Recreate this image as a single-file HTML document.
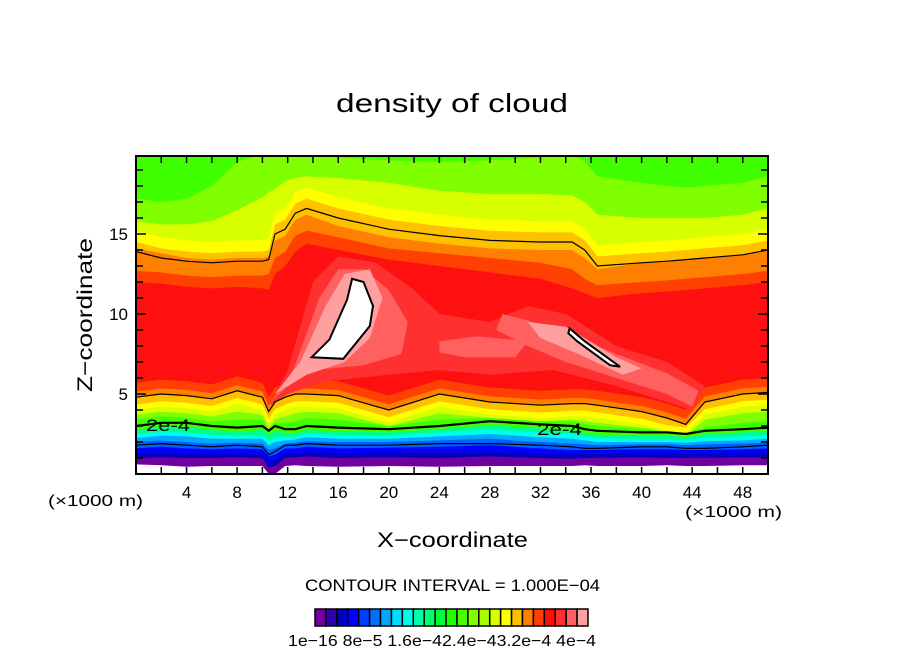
<!DOCTYPE html>
<html><head><meta charset="utf-8">
<style>
html,body{margin:0;padding:0;background:#fff;}
svg text{font-family:"Liberation Sans",sans-serif;fill:#000;}
</style></head>
<body>
<svg id="chart" width="904" height="654" viewBox="0 0 904 654" xmlns="http://www.w3.org/2000/svg">
<rect width="904" height="654" fill="#fff"/>
<text x="336" y="112" font-size="26" textLength="232" lengthAdjust="spacingAndGlyphs">density of cloud</text>
<defs><clipPath id="plotclip"><rect x="136" y="156" width="632" height="318"/></clipPath></defs>
<g id="field" clip-path="url(#plotclip)"></g>
<g id="lines" clip-path="url(#plotclip)"></g>
<rect x="136" y="156" width="632" height="318" fill="none" stroke="#000" stroke-width="2"/>
<g id="ticks"></g>
<text x="146" y="431" font-size="17" textLength="44" lengthAdjust="spacingAndGlyphs">2e-4</text>
<text x="537" y="435" font-size="17" textLength="45" lengthAdjust="spacingAndGlyphs">2e-4</text>
<text x="48" y="506" font-size="16" textLength="95" lengthAdjust="spacingAndGlyphs">(×1000 m)</text>
<text x="685" y="517" font-size="16" textLength="97" lengthAdjust="spacingAndGlyphs">(×1000 m)</text>
<text x="377" y="547" font-size="21" textLength="151" lengthAdjust="spacingAndGlyphs">X−coordinate</text>
<text transform="translate(92,392) rotate(-90)" font-size="21" textLength="154" lengthAdjust="spacingAndGlyphs">Z−coordinate</text>
<text x="305" y="591" font-size="17" textLength="295" lengthAdjust="spacingAndGlyphs">CONTOUR INTERVAL = 1.000E−04</text>
<g id="cbar"></g>
<text x="288" y="646" font-size="16" textLength="308" lengthAdjust="spacingAndGlyphs">1e−16 8e−5 1.6e−42.4e−43.2e−4 4e−4</text>
</svg>
<script>
const X = [0,2,4,6,8,10,10.5,11,11.8,12.6,13.5,16,20,24,28,32,34.5,35.5,36.5,40,42,43.5,45,48,50];
const line1 = [13.9,13.5,13.3,13.2,13.3,13.3,13.4,15.0,15.3,16.3,16.6,16.0,15.3,14.9,14.6,14.5,14.5,14.0,13.0,13.2,13.3,13.4,13.5,13.7,14.0];
const lowLine = [4.8,5.0,4.9,4.7,5.2,4.8,3.9,4.5,4.8,5.0,5.0,4.9,4.0,5.0,4.5,4.3,4.4,4.4,4.3,3.9,3.5,3.1,4.5,5.0,5.1];
const twoLine = [3.0,3.2,3.2,3.0,2.9,3.0,2.7,3.0,2.8,2.8,3.0,2.9,2.8,3.0,3.3,3.1,3.0,2.8,2.7,2.6,2.6,2.5,2.7,2.8,2.9];
const baseLine = [1.8,1.9,1.8,1.7,1.8,1.7,1.2,1.4,1.8,1.8,1.9,1.8,1.8,1.9,1.9,1.8,1.7,1.6,1.6,1.7,1.7,1.6,1.6,1.7,1.8];
const TOP = [20,20,20,20,20,20,20,20,20,20,20,20,20,20,20,20,20,20,20,20,20,20,20,20,20];
const loPurple = [0.6,0.55,0.45,0.5,0.5,0.5,0,0,0.5,0.55,0.5,0.45,0.5,0.45,0.5,0.5,0.5,0.55,0.5,0.5,0.55,0.5,0.5,0.55,0.55];
const loDarkBlue = [1.0,1.05,1.0,1.0,1.05,1.0,0.4,0.5,1.0,1.05,1.1,1.0,1.05,1.0,1.1,1.0,0.95,1.0,1.0,1.05,1.0,1.0,1.0,1.05,1.05];
const loBlue = [1.3,1.35,1.3,1.25,1.3,1.25,0.8,0.9,1.3,1.3,1.4,1.3,1.35,1.4,1.4,1.3,1.25,1.25,1.25,1.3,1.3,1.25,1.3,1.3,1.35];
const loMidBlue = [1.6,1.7,1.6,1.55,1.6,1.55,1.1,1.2,1.6,1.6,1.7,1.6,1.65,1.7,1.8,1.6,1.5,1.5,1.5,1.55,1.55,1.5,1.5,1.55,1.6];
const loSky = [2.0,2.1,2.0,1.9,1.95,1.9,1.5,1.6,1.9,1.95,2.05,2.0,2.0,2.1,2.2,2.0,1.9,1.85,1.8,1.85,1.85,1.8,1.85,1.9,1.95];
const loCyan = [2.25,2.4,2.35,2.2,2.2,2.2,1.8,2.0,2.1,2.15,2.3,2.2,2.2,2.35,2.5,2.3,2.2,2.1,2.0,2.0,2.0,1.95,2.05,2.1,2.2];
const loSea = [2.5,2.65,2.6,2.45,2.4,2.45,2.1,2.3,2.35,2.35,2.5,2.45,2.4,2.6,2.8,2.6,2.5,2.35,2.25,2.2,2.2,2.1,2.3,2.35,2.45];
const loGreen = [2.75,2.95,2.95,2.75,2.65,2.75,2.45,2.7,2.55,2.55,2.75,2.65,2.6,2.8,3.05,2.85,2.75,2.55,2.45,2.4,2.4,2.3,2.5,2.6,2.7];
const loYG = [3.4,3.6,3.5,3.3,3.4,3.4,2.8,3.2,3.2,3.3,3.5,3.4,3.0,3.4,3.5,3.3,3.3,3.1,3.0,2.8,2.8,2.6,2.9,3.2,3.3];
const hiYG = [17.2,17.0,17.2,18.0,19.5,20,20,20,20,20,20,19.8,19.6,19.5,19.6,19.8,20,19.5,18.6,18.2,18.0,17.9,18.0,18.2,18.6];
const loLime = [3.7,3.9,3.8,3.6,3.9,3.7,2.9,3.4,3.6,3.8,3.9,3.8,3.0,3.8,3.5,3.3,3.4,3.3,3.2,2.9,2.6,2.4,3.4,3.8,3.9];
const hiLime = [15.8,15.6,15.6,15.8,16.5,17.3,17.6,17.8,18.3,18.5,18.6,18.5,18.2,17.7,17.5,17.5,17.4,17.0,16.2,16.0,16.0,16.0,16.0,16.2,16.6];
const loYellow = [4.0,4.2,4.1,3.9,4.4,4.0,3.1,3.7,4.0,4.2,4.2,4.1,3.2,4.2,3.7,3.5,3.6,3.6,3.5,3.1,2.7,2.6,3.7,4.2,4.3];
const hiYellow = [15.2,14.8,14.6,14.5,14.6,14.6,14.7,16.3,16.6,17.6,17.9,17.3,16.6,16.2,15.9,15.8,15.8,15.3,14.3,14.5,14.6,14.7,14.8,15.0,15.3];
const loGold = [4.35,4.55,4.45,4.25,4.75,4.35,3.45,4.05,4.35,4.55,4.55,4.45,3.55,4.55,4.05,3.85,3.95,3.95,3.85,3.45,3.05,2.9,4.05,4.55,4.65];
const hiGold = [14.5,14.1,13.9,13.8,13.9,13.9,14.0,15.6,15.9,16.9,17.2,16.6,15.9,15.5,15.2,15.1,15.1,14.6,13.6,13.8,13.9,14.0,14.1,14.3,14.6];
const hiOrange = [14.1,13.8,13.5,13.4,13.5,13.5,13.6,14.6,14.9,15.9,16.2,15.5,14.8,14.4,14.1,14.0,14.0,13.5,12.8,13.2,13.3,13.4,13.5,13.7,14.0];
const loRedOr = [5.15,5.35,5.25,5.05,5.55,5.15,4.25,4.85,5.15,5.35,5.35,5.25,4.35,5.35,4.85,4.65,4.75,4.75,4.65,4.25,3.85,3.45,4.85,5.35,5.45];
const hiRedOr = [12.7,12.6,12.4,12.3,12.4,12.4,12.5,13.5,13.9,14.9,15.2,14.8,14.1,13.8,13.5,13.2,12.8,12.2,11.8,12.0,12.1,12.2,12.3,12.5,12.7];
const loRed = [5.7,5.9,5.8,5.6,6.1,5.7,4.8,5.4,5.7,5.9,5.9,5.8,4.9,5.9,5.4,5.2,5.3,5.3,5.2,4.8,4.4,4.0,5.4,5.9,6.0];
const hiRed = [12.0,11.9,11.7,11.6,11.7,11.6,11.5,12.5,13.0,13.9,14.4,14.0,13.4,13.0,12.6,12.2,11.6,11.3,11.0,11.3,11.4,11.5,11.6,11.8,12.0];

const blob3030 = [[10.6,4.3],[12,6.5],[14,12],[16,13.6],[19,13.2],[22,11.5],[24,10],[28,9.5],[31,10.5],[34,10],[38,8],[42,7],[45,5.5],[44,4],[42,4.5],[38,5.5],[33,6.5],[28,6.2],[24,6.5],[20,6.2],[15,5.8],[12,5]];
const blob6060a = [[10.7,4.5],[12.5,6.6],[14.5,11],[16,12.8],[18,12.8],[20,11.5],[21.5,9.5],[21,7.5],[18,6.8],[14,6.5],[12,5.5]];
const blob6060b = [[29,10],[31,9.6],[34,8.8],[38,7.5],[42,6.3],[44.5,5.2],[44,4.2],[42,5],[38,6],[34,7],[31,8],[28.5,9]];
const blob6060c = [[24,8.3],[27,8.6],[31,8.3],[30,7.3],[26,7.3],[24,7.6]];
const blobA0a = [[11,5],[13,7],[15,10.5],[16.5,12.5],[18.5,12.8],[19.5,11],[18.5,8.5],[16.5,7],[13.5,6.2]];
const blobA0b = [[31,9.5],[34,9.2],[38,7.3],[40,6.6],[38.5,6.2],[35,7.5],[32,8.5]];
const hole1 = [[17.1,12.2],[18.0,12.0],[18.75,10.5],[18.5,9.25],[16.4,7.2],[13.9,7.3],[15.3,8.4],[16.7,10.9]];
const hole2 = [[34.3,9.1],[35.5,8.3],[38.3,6.7],[37.5,6.8],[34.9,8.3],[34.2,8.8]];

const xTicks = [4,8,12,16,20,24,28,32,36,40,44,48];
const yTicks = [5,10,15];
const cbarColors = ['#7000a0','#3000b0','#0000c0','#0000ff','#0040ff','#0070ff','#00a8ff','#00ddff','#00ffe8','#00ffa8','#00ff70','#00ff38','#20ff00','#48ff00','#80ff00','#a8ff00','#d8ff00','#ffff00','#ffc000','#ff8000','#ff4000','#ff1000','#ff3030','#ff6060','#ffa0a0'];

const NS='http://www.w3.org/2000/svg';
const sx = x => 136 + x*12.64;
const sy = z => 474 - z*16;
const field = document.getElementById('field');
const lines = document.getElementById('lines');

function band(lo, hi, color, name){
  let d = 'M';
  for(let i=0;i<X.length;i++) d += (i?'L':'') + sx(X[i]).toFixed(1)+','+sy(hi[i]).toFixed(1);
  for(let i=X.length-1;i>=0;i--) d += 'L'+sx(X[i]).toFixed(1)+','+sy(lo[i]).toFixed(1);
  const p=document.createElementNS(NS,'path');
  p.setAttribute('d',d+'Z'); p.setAttribute('fill',color);
  
  
  field.appendChild(p);
}
function blob(pts,color,name,stroke){
  const p=document.createElementNS(NS,'polygon');
  p.setAttribute('points',pts.map(q=>sx(q[0]).toFixed(1)+','+sy(q[1]).toFixed(1)).join(' '));
  p.setAttribute('fill',color);
  if(stroke){p.setAttribute('stroke','#000');p.setAttribute('stroke-width','2');}
  
  
  (stroke?lines:field).appendChild(p);
}
function cline(arr,w,name){
  const p=document.createElementNS(NS,'polyline');
  p.setAttribute('points',X.map((x,i)=>sx(x).toFixed(1)+','+sy(arr[i]).toFixed(1)).join(' '));
  p.setAttribute('fill','none');p.setAttribute('stroke','#000');p.setAttribute('stroke-width',w);
  
  
  lines.appendChild(p);
}
band(loPurple,TOP,'#7000a0','band-purple');
band(loDarkBlue,TOP,'#0000c0','band-dark-blue');
band(loBlue,TOP,'#0000ff','band-blue');
band(loMidBlue,TOP,'#0060ff','band-mid-blue');
band(loSky,TOP,'#00a8ff','band-sky');
band(loCyan,TOP,'#00ffe8','band-cyan');
band(loSea,TOP,'#00ff90','band-sea-green');
band(loGreen,TOP,'#40ff00','band-green');
band(loYG,hiYG,'#80ff00','band-yellow-green');
band(loLime,hiLime,'#d8ff00','band-lime');
band(loYellow,hiYellow,'#ffff00','band-yellow');
band(loGold,hiGold,'#ffc000','band-gold');
band(lowLine,hiOrange,'#ff8000','band-orange');
band(loRedOr,hiRedOr,'#ff4000','band-red-orange');
band(loRed,hiRed,'#ff1010','band-red');
blob(blob3030,'#ff3030','region-ff3030');
blob(blob6060a,'#ff6060','region-ff6060-left');
blob(blob6060b,'#ff6060','region-ff6060-right');
blob(blob6060c,'#ff6060','region-ff6060-mid');
blob(blobA0a,'#ffa0a0','region-pink-left');
blob(blobA0b,'#ffa0a0','region-pink-right');
cline(line1,1.2,'contour-1e-4-upper');
cline(lowLine,1.2,'contour-lower');
cline(twoLine,2.2,'contour-2e-4');
cline(baseLine,1.2,'contour-base');
blob(hole1,'#fff','max-region-left',true);
blob(hole2,'#fff','max-region-right',true);

const ticks=document.getElementById('ticks');
function ln(x1,y1,x2,y2,w,name){
  const l=document.createElementNS(NS,'line');
  l.setAttribute('x1',x1);l.setAttribute('y1',y1);l.setAttribute('x2',x2);l.setAttribute('y2',y2);
  l.setAttribute('stroke','#000');l.setAttribute('stroke-width',w);
  
  
  ticks.appendChild(l);
}
for(let x=2;x<50;x+=2){ ln(sx(x),474,sx(x),467,1.5,'x-tick'); ln(sx(x),156,sx(x),163,1.5,'x-tick-top'); }
for(let z=1;z<20;z++){ const L=(z%5===0)?10:7; ln(136,sy(z),136+L,sy(z),1.5,'y-tick'); ln(768,sy(z),768-L,sy(z),1.5,'y-tick-right'); }
xTicks.forEach(v=>{
  const t=document.createElementNS(NS,'text');
  t.setAttribute('x',sx(v));t.setAttribute('y',498);t.setAttribute('font-size','17');t.setAttribute('text-anchor','middle');
  t.textContent=v;
  
  
  ticks.appendChild(t);
});
yTicks.forEach(v=>{
  const t=document.createElementNS(NS,'text');
  t.setAttribute('x',128);t.setAttribute('y',sy(v)+6);t.setAttribute('font-size','17');t.setAttribute('text-anchor','end');
  t.textContent=v;
  
  
  ticks.appendChild(t);
});
const cbar=document.getElementById('cbar');
const cw=273/cbarColors.length;
cbarColors.forEach((c,i)=>{
  const r=document.createElementNS(NS,'rect');
  r.setAttribute('x',(315+i*cw).toFixed(2));r.setAttribute('y',609);r.setAttribute('width',cw.toFixed(2));r.setAttribute('height',17);
  r.setAttribute('fill',c);r.setAttribute('stroke','#000');r.setAttribute('stroke-width','1.5');
  
  
  cbar.appendChild(r);
});
</script>
</body></html>
